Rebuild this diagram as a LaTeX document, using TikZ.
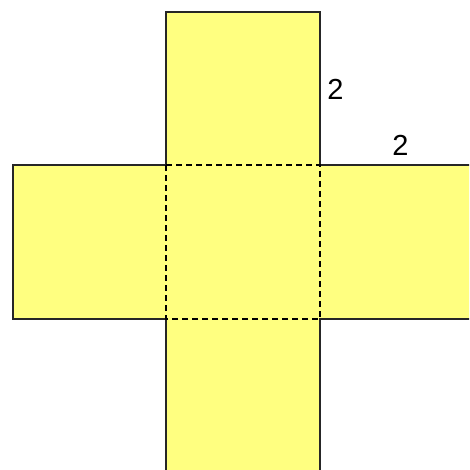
\documentclass[tikz,border=0pt]{standalone}
\usepackage{fontspec}
\setmainfont{Liberation Sans}
\definecolor{netfill}{RGB}{255,255,128}
\begin{document}
\begin{tikzpicture}[x=1pt,y=-1pt,
  edge/.style={draw=black!85,line width=2pt,line join=miter},
  fold/.style={draw=black,line width=1.6pt,dash pattern=on 6pt off 4pt},
  lbl/.style={font=\fontsize{29}{29}\selectfont,inner sep=0pt}]
\useasboundingbox (0,0) rectangle (469,470);
\begin{scope}
\clip (0,0) rectangle (469,470);
\coordinate (p1) at (166,12);
\coordinate (p2) at (320,12);
\coordinate (p3) at (320,165);
\coordinate (p4) at (480,165);
\coordinate (p5) at (480,319);
\coordinate (p6) at (320,319);
\coordinate (p7) at (320,480);
\coordinate (p8) at (166,480);
\coordinate (p9) at (166,319);
\coordinate (p10) at (13,319);
\coordinate (p11) at (13,165);
\coordinate (p12) at (166,165);
\fill[netfill] (p1)--(p2)--(p3)--(p4)--(p5)--(p6)--(p7)--(p8)--(p9)--(p10)--(p11)--(p12)--cycle;
\draw[edge] (p1)--(p2)--(p3)--(p4)--(p5)--(p6)--(p7)--(p8)--(p9)--(p10)--(p11)--(p12)--cycle;
\draw[fold] (p12)--(p3)--(p6)--(p9)--cycle;
\end{scope}
\node[lbl] (a) at (335.5,89) {2};
\node[lbl] (b) at (400.5,145.5) {2};
\end{tikzpicture}
\end{document}
